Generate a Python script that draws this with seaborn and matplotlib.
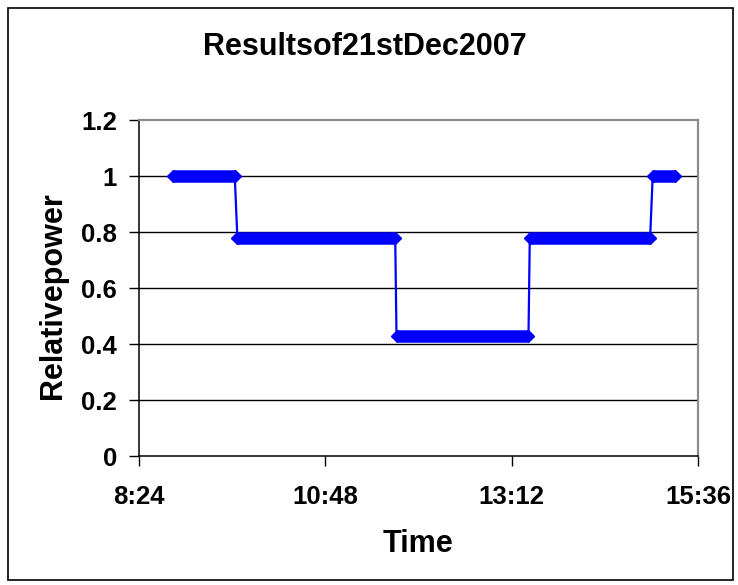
import matplotlib
matplotlib.use("Agg")
import matplotlib.pyplot as plt
import seaborn as sns
import pandas as pd
from matplotlib.patches import Rectangle

# ---- data ----
times = ["8:50", "9:38", "9:40", "11:42", "11:43", "13:25", "13:26", "14:59", "15:01", "15:18"]
power = [1.0, 1.0, 0.78, 0.78, 0.43, 0.43, 0.78, 0.78, 1.0, 1.0]
x_tick_hours = [8.4, 10.8, 13.2, 15.6]
x_tick_labels = ["8:24", "10:48", "13:12", "15:36"]
y_ticks = [0, 0.2, 0.4, 0.6, 0.8, 1.0, 1.2]
y_tick_labels = ["0", "0.2", "0.4", "0.6", "0.8", "1", "1.2"]
title = "Resultsof21stDec2007"
xlabel = "Time"
ylabel = "Relativepower"


def to_hours(s):
    h, m = s.split(":")
    return int(h) + int(m) / 60.0


df = pd.DataFrame({"hours": [to_hours(t) for t in times], "power": power})

sns.set_style("white")
plt.rcParams["font.family"] = ["Liberation Sans", "DejaVu Sans"]
plt.rcParams["text.color"] = "black"
plt.rcParams["xtick.color"] = "black"
plt.rcParams["ytick.color"] = "black"
plt.rcParams["axes.labelcolor"] = "black"

W, H = 738, 585
fig = plt.figure(figsize=(W / 100, H / 100), dpi=100)
L, R, T, B = 139, 698, 120, 456
ax = fig.add_axes([L / W, 1 - B / H, (R - L) / W, (B - T) / H])

# gridlines (inner only)
for yv in y_ticks[1:-1]:
    ax.axhline(yv, color="black", lw=1.0, zorder=1)

# thin connecting line
sns.lineplot(data=df, x="hours", y="power", ax=ax, color="#0000ff", lw=1.6,
             sort=False, estimator=None, zorder=3)

# dense marker bands on each plateau
for i in range(0, len(df), 2):
    seg = df.iloc[i:i + 2]
    sns.lineplot(data=seg, x="hours", y="power", ax=ax, color="#0000ff", lw=9.0,
                 marker="D", markersize=6.4, markeredgecolor="#0000ff",
                 markeredgewidth=1.0, solid_capstyle="butt",
                 sort=False, estimator=None, zorder=4)

ax.set_xlim(8.4, 15.6)
ax.set_ylim(0, 1.2)
ax.set_xticks(x_tick_hours)
ax.set_xticklabels(x_tick_labels)
ax.set_yticks(y_ticks)
ax.set_yticklabels(y_tick_labels)
ax.set_xlabel("")
ax.set_ylabel("")

for lab in ax.get_xticklabels() + ax.get_yticklabels():
    lab.set_fontweight("bold")
    lab.set_fontsize(18.5)
    lab.set_color("black")

ax.tick_params(axis="both", direction="out", length=7, width=1.0, color="black",
               bottom=True, left=True)
ax.tick_params(axis="x", pad=14)
ax.tick_params(axis="y", pad=9)

ax.spines["left"].set_color("black")
ax.spines["bottom"].set_color("black")
ax.spines["left"].set_linewidth(1.1)
ax.spines["bottom"].set_linewidth(1.1)
for s in ("top", "right"):
    ax.spines[s].set_color("#8c8c8c")
    ax.spines[s].set_linewidth(1.6)
legend = ax.get_legend()
if legend is not None:
    legend.remove()

fig.text(365 / W, 1 - 47 / H, title, ha="center", va="center",
         fontsize=22, fontweight="bold", color="black")
fig.text(418 / W, 1 - 544 / H, xlabel, ha="center", va="center",
         fontsize=22, fontweight="bold", color="black")
fig.text(53 / W, 1 - 296 / H, ylabel, ha="center", va="center", rotation=90,
         fontsize=22, fontweight="bold", color="black")

fig.add_artist(Rectangle((8 / W, 1 - 580 / H), (733 - 8) / W, (580 - 8) / H,
                         transform=fig.transFigure, fill=False,
                         edgecolor="black", lw=1.2))

fig.savefig("out.png", dpi=100)
